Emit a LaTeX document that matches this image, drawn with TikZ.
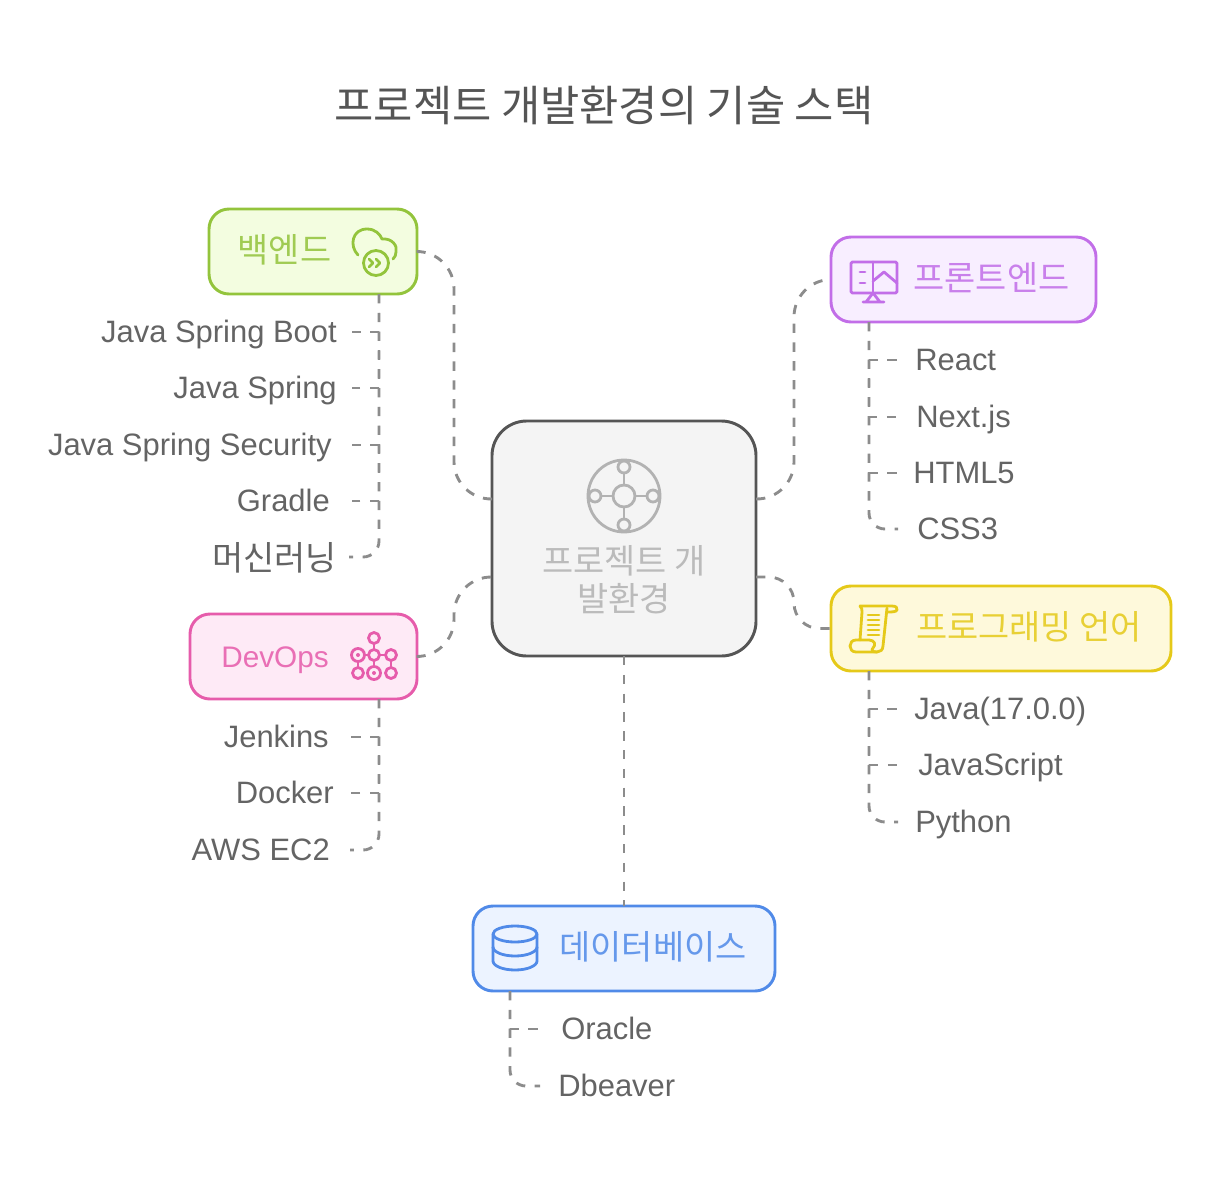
\documentclass[tikz,border=0pt]{standalone}
\usepackage{fontspec}
\usetikzlibrary{positioning,calc}
\setmainfont{Liberation Sans}
\newfontfamily\kr{Noto Sans CJK KR}
\definecolor{ink}{RGB}{85,85,85}
\definecolor{linkc}{RGB}{140,140,140}
\definecolor{leafc}{RGB}{100,100,100}
\definecolor{hubS}{RGB}{85,85,85}
\definecolor{hubF}{RGB}{244,244,244}
\definecolor{hubTS}{RGB}{178,178,178}
\definecolor{greenS}{RGB}{147,196,60}
\definecolor{greenF}{RGB}{243,253,224}
\definecolor{purpS}{RGB}{194,110,232}
\definecolor{purpF}{RGB}{248,238,255}
\definecolor{pinkS}{RGB}{230,92,171}
\definecolor{pinkF}{RGB}{254,234,246}
\definecolor{yellS}{RGB}{229,201,25}
\definecolor{yellF}{RGB}{254,249,219}
\definecolor{blueS}{RGB}{80,138,232}
\definecolor{blueF}{RGB}{236,243,255}
\tikzset{
  box/.style={draw=#1S,fill=#1F,line width=2.2pt,rounded corners=15pt,minimum height=63.75pt,inner sep=0pt,outer sep=0pt},
  lab/.style={font=\fontsize{25.4}{28.5}\selectfont\kr,text=#1S!88,inner sep=0pt},
  leaf/.style={font=\fontsize{23.2}{28}\selectfont,text=leafc,inner sep=0pt,text height=19pt,text depth=4pt},
  link/.style={draw=linkc,line width=2.15pt,dash pattern=on 7pt off 7.1pt},
  icon/.style={draw=#1S,line width=2.1pt,line join=round,line cap=round},
}
\begin{document}
\begin{tikzpicture}[x=0.75pt,y=-0.75pt]
\useasboundingbox (0,0) rectangle (1210,1181);
\node[font=\fontsize{32}{36}\selectfont\kr,text=ink,inner sep=0pt] (title) at (604,105) {프로젝트 개발환경의 기술 스택};
% boxes
\node[box=hub,minimum width=198pt,minimum height=176.25pt,rounded corners=26pt] (hub) at (624,538.5) {};
\node[box=green,minimum width=156pt] (backend) at (313,251.5) {};
\node[box=purp,minimum width=198.75pt] (frontend) at (963.5,279.5) {};
\node[box=pink,minimum width=170.25pt] (devops) at (303.5,656.5) {};
\node[box=yell,minimum width=255pt] (lang) at (1001,628.5) {};
\node[box=blue,minimum width=226.5pt] (db) at (624,948.5) {};
\node[lab=hubT,align=center] (hubLab) at (624,580) {프로젝트 개\\발환경};
\node[lab=green] (backendLab) at (284.5,250) {백엔드};
\node[lab=purp] (frontendLab) at (991.5,278) {프론트엔드};
\node[lab=pink,font=\fontsize{22.3}{28}\selectfont,text height=19pt,text depth=4pt] (devopsLab) at (275,657) {DevOps};
\node[lab=yell] (langLab) at (1029,627) {프로그래밍 언어};
\node[lab=blue] (dbLab) at (653,947) {데이터베이스};
% hub links
\coordinate (hubBk) at (492,499);
\coordinate (hubFr) at (756,499);
\coordinate (hubDv) at (492,577);
\coordinate (hubLg) at (756,577);
\coordinate (midL) at (454,400);
\coordinate (midR) at (794,400);
\draw[link,rounded corners=28pt] (backend.east) -| (midL) |- (hubBk);
\draw[link,rounded corners=28pt] (hubFr) -| (midR) |- (frontend.west);
\draw[link,rounded corners=28pt] (devops.east) -| (midL |- hubDv) -- (hubDv);
\draw[link,rounded corners=19pt] (hubLg) -| (midR |- lang.west) -- (lang.west);
\draw[link] (hub.south) -- (db.north);
% leaves, left side
\coordinate (bkTop) at (379,294);
\coordinate (bkEnd) at (352,0);
\foreach \i/\y/\x/\lab in {1/332/337/Java Spring Boot,2/388/337/Java Spring,3/445/332/Java Spring Security,4/501/330/Gradle}{
  \node[leaf,anchor=east] (bk\i) at (\x,\y) {\lab};
  \draw[link] (bkTop) |- (bk\i.east -| bkEnd);}
\node[leaf,anchor=east,font=\fontsize{25.4}{29}\selectfont\kr,text height=21pt,text depth=5pt] (bk5) at (337,560) {머신러닝};
\coordinate (bk5End) at (349,557);
\draw[link,rounded corners=12pt] (bkTop) |- (bk5End);
\coordinate (dvTop) at (379,699);
\coordinate (dvEnd) at (350,0);
\foreach \i/\y/\x/\lab in {1/737/329/Jenkins,2/793/334/Docker}{
  \node[leaf,anchor=east] (dv\i) at (\x,\y) {\lab};
  \draw[link] (dvTop) |- (dv\i.east -| dvEnd);}
\node[leaf,anchor=east] (dv3) at (330,850) {AWS EC2};
\draw[link,rounded corners=12pt] (dvTop) |- (dv3.east -| dvEnd);
% leaves, right side
\coordinate (frTop) at (869,322);
\coordinate (frEnd) at (898,0);
\foreach \i/\y/\x/\lab in {1/360/915/React,2/417/916/Next.js,3/473/913/HTML5}{
  \node[leaf,anchor=west] (fr\i) at (\x,\y) {\lab};
  \draw[link] (frTop) |- (fr\i.west -| frEnd);}
\node[leaf,anchor=west] (fr4) at (917,529) {CSS3};
\draw[link,rounded corners=12pt] (frTop) |- (fr4.west -| frEnd);
\coordinate (lgTop) at (869,671);
\foreach \i/\y/\x/\lab in {1/709/914/Java(17.0.0),2/765/918/JavaScript}{
  \node[leaf,anchor=west] (lg\i) at (\x,\y) {\lab};
  \draw[link] (lgTop) |- (lg\i.west -| frEnd);}
\node[leaf,anchor=west] (lg3) at (915,822) {Python};
\draw[link,rounded corners=12pt] (lgTop) |- (lg3.west -| frEnd);
\coordinate (dbTop) at (510,991);
\coordinate (dbEnd) at (540,0);
\node[leaf,anchor=west] (db1) at (561,1029) {Oracle};
\draw[link] (dbTop) |- (db1.west -| dbEnd);
\node[leaf,anchor=west] (db2) at (558,1086) {Dbeaver};
\draw[link,rounded corners=12pt] (dbTop) |- (db2.west -| dbEnd);
% icons
\begin{scope}[icon=hubT]
\draw (624,496) circle[radius=36];
\draw (624,496) circle[radius=11];
\foreach \a in {0,90,180,270}{
  \draw ($(624,496)+(\a:29)$) circle[radius=6];
  \draw ($(624,496)+(\a:11)$) -- ($(624,496)+(\a:23)$);}
\end{scope}
\begin{scope}[icon=green]
\draw (358,255) .. controls (349,246) and (352,229) .. (367,229) .. controls (375,229) and (380,234) .. (382,239) .. controls (392,238) and (398,246) .. (396,252) .. controls (396,255) and (395,257) .. (393,259);
\draw (376,263) circle[radius=12.5];
\draw (369,259) -- (373,263) -- (369,267) (376,259) -- (380,263) -- (376,267);
\end{scope}
\begin{scope}[icon=purp]
\draw[rounded corners=1pt] (851,262) rectangle (897,293);
\draw (873,262) -- (873,293);
\draw (860,272) -- (865,272) (860,283) -- (865,283);
\draw (873,281) -- (884,272) -- (897,283);
\draw (873,293) -- (866,302) (873,293) -- (880,302) (863,302) -- (884,302);
\end{scope}
\begin{scope}[icon=pink]
\foreach \x/\y in {374/638,374/655,391/655,358/673,391/673}{
  \draw (\x,\y) circle[radius=5.5];}
\foreach \x/\y in {358/655,374/673}{
  \draw (\x,\y) circle[radius=6.5];
  \fill[pinkS] (\x,\y) circle[radius=2];}
\draw (374,644) -- (374,649) (365,655) -- (368,655) (380,655) -- (385,655) (358,662) -- (358,667) (374,661) -- (374,666) (391,661) -- (391,667);
\end{scope}
\begin{scope}[icon=yell]
\draw (860,606) -- (892,606) .. controls (896,606) and (898,608) .. (897,610) .. controls (896,612) and (892,612) .. (887,612);
\draw (860,606) .. controls (862,607) and (862,610) .. (862,612) -- (860,640) -- (856,640) .. controls (848,640) and (848,652) .. (856,652) -- (877,652);
\draw (887,608) -- (883,646) .. controls (883,650) and (880,652) .. (877,652) .. controls (872,652) and (871,650) .. (873,648) .. controls (876,645) and (875,640) .. (869,640) -- (860,640);
\foreach \y in {615,620,625,630,635}{
  \draw (868,\y) -- (879,\y);}
\end{scope}
\begin{scope}[icon=blue]
\draw (515,934) ellipse[x radius=22,y radius=8];
\draw (493,934) -- (493,961) arc[start angle=180,end angle=0,x radius=22,y radius=9] -- (537,934);
\draw (493,947) arc[start angle=180,end angle=0,x radius=22,y radius=9];
\end{scope}
\end{tikzpicture}
\end{document}
